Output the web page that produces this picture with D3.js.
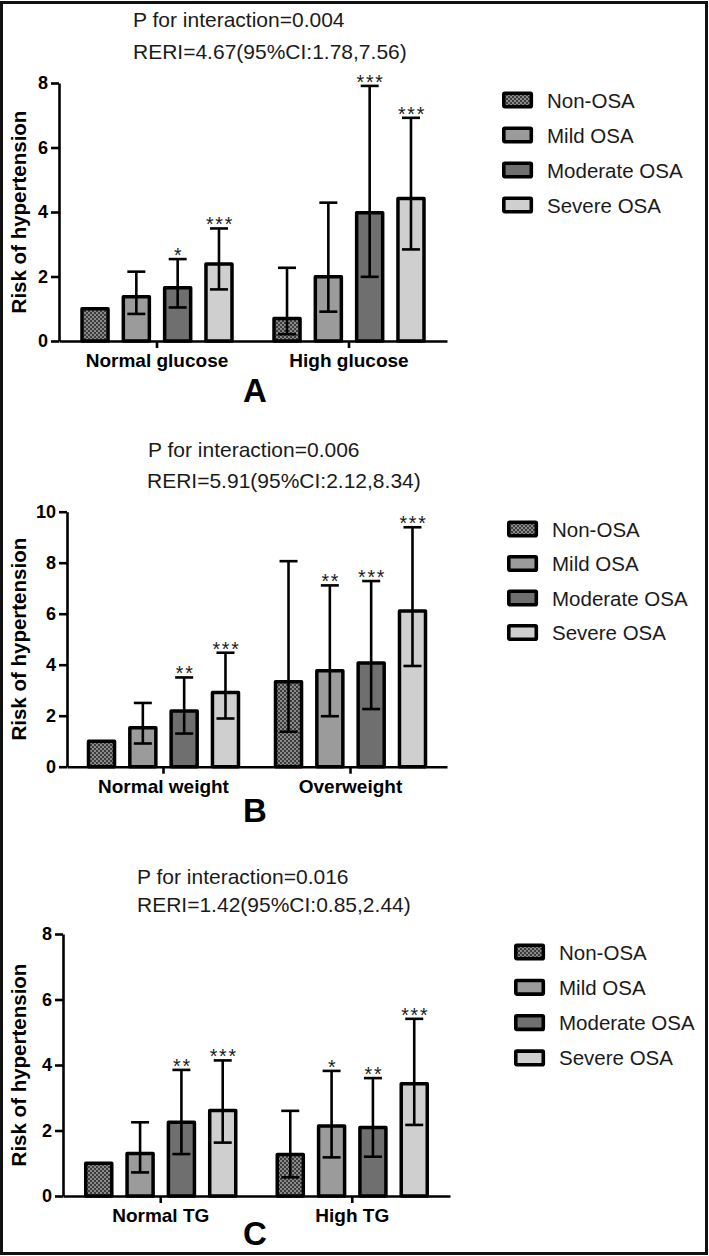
<!DOCTYPE html>
<html>
<head>
<meta charset="utf-8">
<script src="https://cdn.jsdelivr.net/npm/d3@7"></script>
<style>
  html, body { margin: 0; padding: 0; background: #fff; }
  svg { display: block; }
  text { font-family: "Liberation Sans", Arial, sans-serif; }
</style>
</head>
<body>
<script>
// ---------------- DATA ----------------
const seriesNames = ["Non-OSA", "Mild OSA", "Moderate OSA", "Severe OSA"];

const groupsA = ["Normal glucose", "High glucose"];
const valuesA = [[1.0, 1.37, 1.65, 2.39], [0.70, 1.99, 3.98, 4.42]];
const lowerA  = [[null, 0.84, 1.04, 1.60], [0.21, 0.91, 1.99, 2.84]];
const upperA  = [[null, 2.15, 2.54, 3.49], [2.27, 4.29, 7.91, 6.92]];
const starsA  = [["", "", "*", "***"], ["", "", "***", "***"]];
const ticksA  = [0, 2, 4, 6, 8];

const groupsB = ["Normal weight", "Overweight"];
const valuesB = [[1.0, 1.53, 2.18, 2.91], [3.33, 3.76, 4.07, 6.11]];
const lowerB  = [[null, 0.91, 1.30, 1.89], [1.37, 1.98, 2.26, 3.95]];
const upperB  = [[null, 2.50, 3.50, 4.47], [8.06, 7.11, 7.28, 9.39]];
const starsB  = [["", "", "**", "***"], ["", "**", "***", "***"]];
const ticksB  = [0, 2, 4, 6, 8, 10];

const groupsC = ["Normal TG", "High TG"];
const valuesC = [[1.0, 1.30, 2.25, 2.61], [1.27, 2.14, 2.09, 3.43]];
const lowerC  = [[null, 0.72, 1.28, 1.63], [0.57, 1.18, 1.20, 2.17]];
const upperC  = [[null, 2.25, 3.85, 4.14], [2.60, 3.82, 3.60, 5.41]];
const starsC  = [["", "", "**", "***"], ["", "*", "**", "***"]];
const ticksC  = [0, 2, 4, 6, 8];

const pTexts    = ["P for interaction=0.004", "P for interaction=0.006", "P for interaction=0.016"];
const reriTexts = ["RERI=4.67(95%CI:1.78,7.56)", "RERI=5.91(95%CI:2.12,8.34)", "RERI=1.42(95%CI:0.85,2.44)"];
const panelLetters = ["A", "B", "C"];
const yTitle = "Risk of hypertension";

// ---------------- LAYOUT ----------------
const W = 709, H = 1256;
const fills = ["url(#checker)", "#9b9b9b", "#6f6f6f", "#cfcfcf"];

const panels = [
  { groups: groupsA, values: valuesA, lower: lowerA, upper: upperA, stars: starsA, ticks: ticksA,
    axisX: 59, xEnd: 447, y0: 341, y1: 83, po: 0.0104,
    pX: 133, pY: 27, rX: 133, rY: 59, legX: 502, legY: 100, legStep: 35, letterY: 402 },
  { groups: groupsB, values: valuesB, lower: lowerB, upper: upperB, stars: starsB, ticks: ticksB,
    axisX: 67, xEnd: 447, y0: 766.7, y1: 511.7, po: 0.016,
    pX: 148, pY: 457, rX: 147, rY: 488, legX: 507, legY: 529, legStep: 34.5, letterY: 822 },
  { groups: groupsC, values: valuesC, lower: lowerC, upper: upperC, stars: starsC, ticks: ticksC,
    axisX: 63, xEnd: 450, y0: 1196, y1: 934, po: 0.0104,
    pX: 137, pY: 884, rX: 137, rY: 912, legX: 514, legY: 952, legStep: 35.3, letterY: 1245 }
];

const svg = d3.select("body").append("svg").attr("width", W).attr("height", H);
svg.append("rect").attr("width", W).attr("height", H).attr("fill", "#fff");

const defs = svg.append("defs");
const pat = defs.append("pattern").attr("id", "checker").attr("patternUnits", "userSpaceOnUse")
  .attr("width", 4).attr("height", 4);
pat.append("rect").attr("width", 4).attr("height", 4).attr("fill", "#3c3c3c");
pat.append("rect").attr("x", 0).attr("y", 0).attr("width", 2).attr("height", 2).attr("fill", "#8a8a8a");
pat.append("rect").attr("x", 2).attr("y", 2).attr("width", 2).attr("height", 2).attr("fill", "#8a8a8a");

// outer frame
svg.append("rect").attr("x", 1.5).attr("y", 2.5).attr("width", 705).attr("height", 1251)
  .attr("fill", "none").attr("stroke", "#111").attr("stroke-width", 3);

panels.forEach((p, pi) => {
  const g = svg.append("g");
  const yMax = p.ticks[p.ticks.length - 1];
  const y = d3.scaleLinear().domain([0, yMax]).range([p.y0, p.y1]);
  const xg = d3.scaleBand().domain(p.groups).range([p.axisX, p.xEnd]).paddingInner(0).paddingOuter(p.po);
  const xs = d3.scaleBand().domain(seriesNames).range([-75, 75]).paddingInner(0.37).paddingOuter(0);

  // titles
  g.append("text").attr("x", p.pX).attr("y", p.pY).attr("font-size", 21).attr("fill", "#1a1a1a").text(pTexts[pi]);
  g.append("text").attr("x", p.rX).attr("y", p.rY).attr("font-size", 21).attr("fill", "#1a1a1a").text(reriTexts[pi]);

  // bars
  const rows = [];
  p.groups.forEach((gr, gi) => {
    seriesNames.forEach((s, si) => {
      rows.push({ group: gr, series: s, si, v: p.values[gi][si], lo: p.lower[gi][si], hi: p.upper[gi][si], star: p.stars[gi][si] });
    });
  });
  const cx = d => xg(d.group) + xg.bandwidth() / 2 + xs(d.series) + xs.bandwidth() / 2;

  g.selectAll("rect.bar").data(rows).join("rect").attr("class", "bar")
    .attr("x", d => xg(d.group) + xg.bandwidth() / 2 + xs(d.series))
    .attr("y", d => y(d.v))
    .attr("width", xs.bandwidth())
    .attr("height", d => y(0) - y(d.v))
    .attr("fill", d => fills[d.si])
    .attr("stroke", "#000").attr("stroke-width", 3.5).attr("stroke-linejoin", "round");

  const eb = rows.filter(d => d.hi != null);
  const capW = 9;
  g.selectAll("line.eb").data(eb).join("line").attr("class", "eb")
    .attr("x1", cx).attr("x2", cx).attr("y1", d => y(d.lo)).attr("y2", d => y(d.hi))
    .attr("stroke", "#000").attr("stroke-width", 2.6);
  g.selectAll("line.capT").data(eb).join("line").attr("class", "capT")
    .attr("x1", d => cx(d) - capW).attr("x2", d => cx(d) + capW).attr("y1", d => y(d.hi)).attr("y2", d => y(d.hi))
    .attr("stroke", "#000").attr("stroke-width", 2.6);
  g.selectAll("line.capB").data(eb).join("line").attr("class", "capB")
    .attr("x1", d => cx(d) - capW).attr("x2", d => cx(d) + capW).attr("y1", d => y(d.lo)).attr("y2", d => y(d.lo))
    .attr("stroke", "#000").attr("stroke-width", 2.6);

  g.selectAll("text.star").data(rows.filter(d => d.star)).join("text").attr("class", "star")
    .attr("x", d => cx(d) + 1).attr("y", d => y(d.hi) + 3)
    .attr("text-anchor", "middle").attr("font-size", 19.5).attr("letter-spacing", 1.8)
    .attr("fill", "#1a1a1a").text(d => d.star);

  // y axis
  const ya = g.append("g").attr("transform", `translate(${p.axisX},0)`)
    .call(d3.axisLeft(y).tickValues(p.ticks).tickSize(8).tickSizeOuter(0).tickPadding(3));
  ya.select(".domain").attr("stroke", "#000").attr("stroke-width", 2.6);
  ya.selectAll(".tick line").attr("stroke", "#000").attr("stroke-width", 2.6);
  ya.selectAll(".tick text").attr("font-size", 18).attr("font-weight", "bold").attr("fill", "#000")
    .attr("font-family", "Liberation Sans, Arial, sans-serif");

  // x axis
  const xa = g.append("g").attr("transform", `translate(0,${p.y0})`)
    .call(d3.axisBottom(xg).tickSize(7).tickSizeOuter(0).tickPadding(6));
  xa.select(".domain").attr("stroke", "#000").attr("stroke-width", 2.6);
  xa.selectAll(".tick line").attr("stroke", "#000").attr("stroke-width", 2.6);
  xa.selectAll(".tick text").attr("font-size", 19).attr("font-weight", "bold").attr("fill", "#000")
    .attr("font-family", "Liberation Sans, Arial, sans-serif");

  // y title
  g.append("text").attr("transform", `translate(26,${(p.y0 + p.y1) / 2}) rotate(-90)`)
    .attr("text-anchor", "middle").attr("font-size", 20.5).attr("font-weight", "bold").attr("fill", "#000")
    .text(yTitle);

  // panel letter
  g.append("text").attr("x", 255).attr("y", p.letterY).attr("text-anchor", "middle")
    .attr("font-size", 33).attr("font-weight", "bold").attr("fill", "#000").text(panelLetters[pi]);

  // legend
  const lg = g.selectAll("g.leg").data(seriesNames).join("g").attr("class", "leg")
    .attr("transform", (d, i) => `translate(${p.legX},${p.legY + i * p.legStep})`);
  lg.append("rect").attr("x", 1.8).attr("y", -6.8).attr("width", 27.5).attr("height", 13.6)
    .attr("fill", (d, i) => fills[i]).attr("stroke", "#000").attr("stroke-width", 3.6).attr("rx", 1);
  lg.append("text").attr("x", 45).attr("y", 7.5).attr("font-size", 20.5).attr("fill", "#1a1a1a").text(d => d);
});
</script>
</body>
</html>
